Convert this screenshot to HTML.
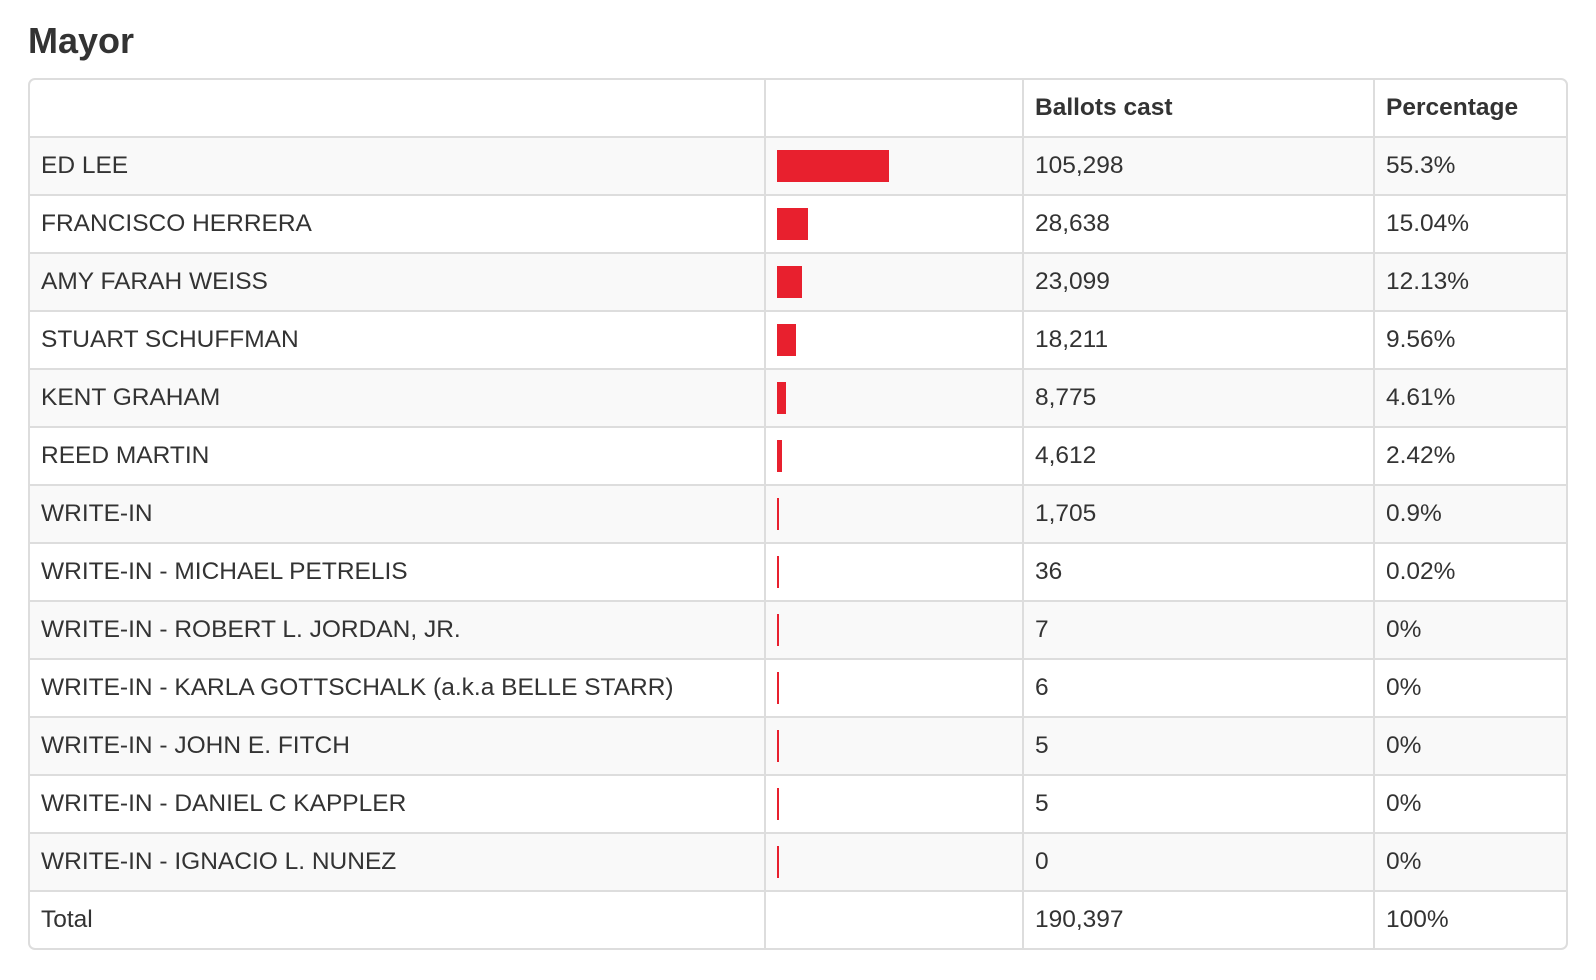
<!DOCTYPE html>
<html><head><meta charset="utf-8"><style>
html,body{margin:0;padding:0;background:#fff;width:1596px;height:980px;overflow:hidden;font-family:"Liberation Sans",Arial,sans-serif;color:#333}
h1{position:absolute;left:28px;top:21px;margin:0;font-size:36px;line-height:40px;font-weight:bold;color:#333}
table{position:absolute;left:28px;top:78px;width:1540px;table-layout:fixed;border-collapse:separate;border-spacing:0;border:2px solid #ddd;border-radius:7px;font-size:24.5px}
td,th{height:58px;border-top:2px solid #ddd;border-left:2px solid #ddd;padding:0 11px;text-align:left;vertical-align:middle;box-sizing:border-box;white-space:nowrap}
th{border-top:none;height:56px;font-weight:bold}
tr td:first-child,tr th:first-child{border-left:none}
tbody tr:nth-child(odd) td{background:#f9f9f9}
.bar{height:32px;background:#e8202e}
</style></head><body>
<h1>Mayor</h1>
<table>
<colgroup><col style="width:734px"><col style="width:258px"><col style="width:351px"><col></colgroup>
<thead><tr>
<th></th>
<th></th>
<th>Ballots cast</th>
<th>Percentage</th>
</tr></thead>
<tbody id="tb"></tbody>
</table>
<script>
const names=["ED LEE","FRANCISCO HERRERA","AMY FARAH WEISS","STUART SCHUFFMAN","KENT GRAHAM","REED MARTIN","WRITE-IN","WRITE-IN - MICHAEL PETRELIS","WRITE-IN - ROBERT L. JORDAN, JR.","WRITE-IN - KARLA GOTTSCHALK (a.k.a BELLE STARR)","WRITE-IN - JOHN E. FITCH","WRITE-IN - DANIEL C KAPPLER","WRITE-IN - IGNACIO L. NUNEZ"];
const ballots=["105,298","28,638","23,099","18,211","8,775","4,612","1,705","36","7","6","5","5","0"];
const pcts=[55.3,15.04,12.13,9.56,4.61,2.42,0.9,0.02,0,0,0,0,0];
const totalBallots="190,397";
const totalPct="100%";
const pxPerPct=2.03;
const tb=document.getElementById('tb');
function cell(tr,txt,name){const td=document.createElement('td');td.textContent=txt;


tr.appendChild(td);return td;}
names.forEach((n,i)=>{
const tr=document.createElement('tr');


cell(tr,n,'candidate-name');
const bc=cell(tr,'','bar-cell');
const b=document.createElement('div');b.className='bar';
b.style.width=Math.max(2,pcts[i]*pxPerPct)+'px';


bc.appendChild(b);
cell(tr,ballots[i],'ballots-cast');
cell(tr,pcts[i]+'%','percentage');
tb.appendChild(tr);
});
const tr=document.createElement('tr');


cell(tr,'Total','total-label');cell(tr,'','bar-cell');cell(tr,totalBallots,'total-ballots');cell(tr,totalPct,'total-percentage');
tb.appendChild(tr);
</script>
</body></html>
